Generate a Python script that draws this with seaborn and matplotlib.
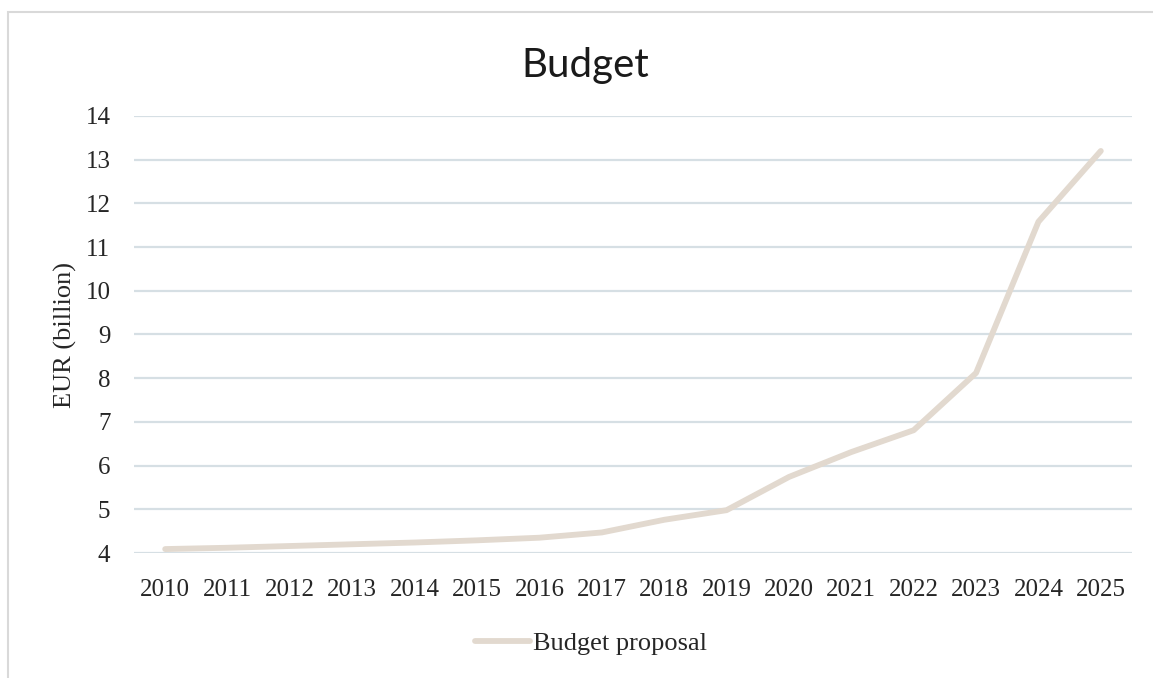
import matplotlib
matplotlib.use("Agg")
import matplotlib.pyplot as plt
from matplotlib.patches import Rectangle
import seaborn as sns
import pandas as pd

years = ["2010", "2011", "2012", "2013", "2014", "2015", "2016", "2017",
         "2018", "2019", "2020", "2021", "2022", "2023", "2024", "2025"]
budget = [4.09, 4.12, 4.16, 4.20, 4.24, 4.29, 4.35, 4.47,
          4.76, 4.98, 5.74, 6.31, 6.81, 8.12, 11.58, 13.2]
series_name = "Budget proposal"
y_ticks = list(range(4, 15))

df = pd.DataFrame({"Year": years, "Value": budget, "Series": series_name})

sns.set_theme(style="white")
serif = ["Liberation Serif", "DejaVu Serif"]
plt.rcParams["font.family"] = serif

fig = plt.figure(figsize=(11.53, 6.78), dpi=100)
ax = fig.add_axes([134 / 1153, 1 - 553 / 678, (1132 - 134) / 1153, (553 - 116) / 678])

# figure frame
fig.patches.append(Rectangle((8 / 1153, -0.05), 1.2, 1 - 12 / 678 + 0.05,
                             transform=fig.transFigure, fill=False,
                             edgecolor="#d9d9d9", linewidth=1.5, zorder=0))

sns.lineplot(data=df, x="Year", y="Value", hue="Series", ax=ax,
             palette=["#e2d9cf"], linewidth=4.2, sort=False,
             solid_capstyle="round", legend=True)

ax.set_xlim(-0.5, len(years) - 0.5)
ax.set_ylim(4, 14)
ax.set_yticks(y_ticks)
ax.grid(axis="y", color="#d6dfe4", linewidth=1.6)
ax.set_axisbelow(True)
for s in ax.spines.values():
    s.set_visible(False)
ax.tick_params(axis="both", length=0, labelsize=18, colors="#262626")
ax.tick_params(axis="y", pad=17)
ax.tick_params(axis="x", pad=19)
ax.set_xlabel("")
ax.set_ylabel("EUR (billion)", fontsize=19, color="#262626", labelpad=6)

fig.text(0.508, 1 - 65 / 678, "Budget", ha="center", va="center",
         fontsize=29, color="#1a1a1a", family=["Lato", "DejaVu Sans"])

leg = ax.legend(loc="center", bbox_to_anchor=(0.458, -(643 - 553) / (553 - 116)),
                frameon=False, fontsize=19, handlelength=2.1, handletextpad=0.1)
for t in leg.get_texts():
    t.set_color("#262626")

fig.savefig("out.png", dpi=100)
